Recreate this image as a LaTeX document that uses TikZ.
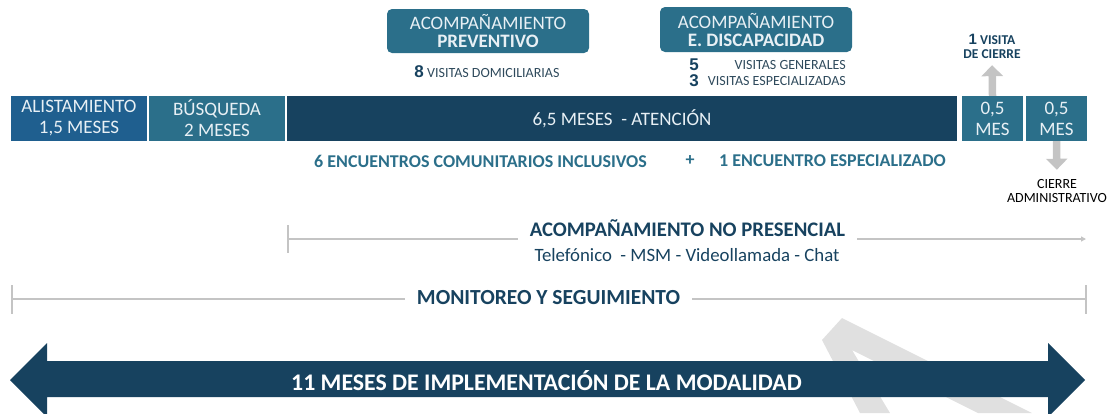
\documentclass[tikz,border=0pt]{standalone}
\usepackage{fontspec}
\setmainfont{Carlito}
\newfontfamily\numfont{Liberation Sans}
\usetikzlibrary{arrows.meta}
\definecolor{navy}{HTML}{17425F}
\definecolor{teal}{HTML}{2B6F8A}
\definecolor{midblue}{HTML}{1F5F8F}
\definecolor{boxtxt}{HTML}{E8F0F5}
\definecolor{lgray}{HTML}{C4C4C4}
\definecolor{wgray}{HTML}{E0E0E0}
\definecolor{txtgray}{HTML}{2F4A5C}
\newcommand{\fs}[1]{\fontsize{#1}{#1}\selectfont}
\tikzset{
  phase/.style={rectangle, inner sep=0pt, text=boxtxt, align=center, font=\fs{19}, minimum height=45pt},
  topbox/.style={rectangle, rounded corners=5pt, fill=teal, text=boxtxt, align=center, inner sep=0pt, font=\fs{19}},
  graytip/.style={draw=lgray, line width=7.5pt, -{Triangle[width=21pt,length=11pt]}},
  thinline/.style={draw=lgray, line width=1.2pt},
  small/.style={inner sep=0pt, font=\fs{14}},
}
\begin{document}
\begin{tikzpicture}[x=1pt,y=-1pt]
\useasboundingbox (0,0) rectangle (1110,413);
% watermark
\fill[wgray] (860,413) -- (822,340) -- (842,318) -- (1032,413) -- (978,413) -- (852,350) -- (890,413) -- cycle;
% phase boxes
\node[phase, fill=midblue, minimum width=136pt] (ali) at (79,118.5) {ALISTAMIENTO\\[2pt]1,5 MESES};
\node[phase, fill=teal, minimum width=136pt] (bus) at (217,118.5) {BÚSQUEDA\\[2pt]2 MESES};
\node[phase, fill=navy, minimum width=670pt] (ate) at (622,118.5) {6,5 MESES\ \ - ATENCIÓN};
\node[phase, fill=teal, minimum width=61pt] (m1) at (992.5,118.5) {0,5\\[2pt]MES};
\node[phase, fill=teal, minimum width=61pt] (m2) at (1056.5,118.5) {0,5\\[2pt]MES};
% top boxes
\node[topbox, minimum width=202pt, minimum height=44pt] (prev) at (488,31) {ACOMPAÑAMIENTO\\[-1pt]\textbf{PREVENTIVO}};
\node[topbox, minimum width=192pt, minimum height=45pt] (disc) at (756,29.5) {ACOMPAÑAMIENTO\\[-1pt]\textbf{E. DISCAPACIDAD}};
\node[small, text=txtgray] (v8) at (487,72) {{\numfont\bfseries\fs{17}\color{navy}8} VISITAS DOMICILIARIAS};
\node[small, text=txtgray, anchor=east] (vg) at (846,65.5) {VISITAS GENERALES};
\node[small, text=txtgray, anchor=east] (ve) at (846,81) {VISITAS ESPECIALIZADAS};
\node[inner sep=0pt, font=\numfont\bfseries\fs{17}, text=navy] (n5) at (694,64.5) {5};
\node[inner sep=0pt, font=\numfont\bfseries\fs{17}, text=navy] (n3) at (694,80.5) {3};
% closing visit
\node[small, font=\bfseries\fs{13.5}, text=navy, align=center] (vc) at (992,46.5) {{\numfont\fs{15}1} VISITA\\[1pt]DE CIERRE};
\draw[graytip] (m1.north) -- (vc.south) [shorten >=6pt];
\node[small, text=black, align=center] (ca) at (1057,190.5) {CIERRE\\[0pt]ADMINISTRATIVO};
\draw[graytip] (m2.south) -- (ca.north) [shorten >=9pt];
% encounters
\node[inner sep=0pt, font=\bfseries\fs{18}, text=teal] (enc) at (480.5,161) {6 ENCUENTROS COMUNITARIOS INCLUSIVOS};
\node[inner sep=0pt, font=\bfseries\fs{18}, text=teal] (plus) at (690,161) {+};
\node[inner sep=0pt, font=\bfseries\fs{18}, text=teal] (esp) at (832.5,161) {1 ENCUENTRO ESPECIALIZADO};
% no presencial
\node[inner sep=0pt, font=\bfseries\fs{20.7}, text=navy] (np) at (687.5,228) {ACOMPAÑAMIENTO NO PRESENCIAL};
\node[inner sep=0pt, font=\fs{18.8}, text=navy] (tel) at (687,255) {Telefónico\ \ - MSM - Videollamada - Chat};
\coordinate (npL) at (288,239);
\coordinate (npR) at (1086,239);
\draw[thinline] (288,225) -- (288,253);
\draw[thinline] (npL) -- ([xshift=-12pt]np.west |- npL);
\draw[thinline, -{Triangle[width=5pt,length=5pt]}] ([xshift=12pt]np.east |- npR) -- (npR);
% monitoreo
\node[inner sep=0pt, font=\bfseries\fs{21.5}, text=navy] (mon) at (548.5,298) {MONITOREO Y SEGUIMIENTO};
\coordinate (monL) at (12,299);
\coordinate (monR) at (1086,299);
\draw[thinline] (12,285) -- (12,314);
\draw[thinline] (1086,285) -- (1086,314);
\draw[thinline] (monL) -- ([xshift=-12pt]mon.west |- monL);
\draw[thinline] ([xshift=12pt]mon.east |- monR) -- (monR);
% big double arrow
\fill[navy] (10,380) -- (47,343) -- (47,361) -- (1048,361) -- (1048,343) -- (1085,380) -- (1048,417) -- (1048,397) -- (47,397) -- (47,417) -- cycle;
\node[inner sep=0pt, font=\bfseries\fs{23.8}, text=white] (imp) at (546.5,381) {11 MESES DE IMPLEMENTACIÓN DE LA MODALIDAD};
\end{tikzpicture}
\end{document}
